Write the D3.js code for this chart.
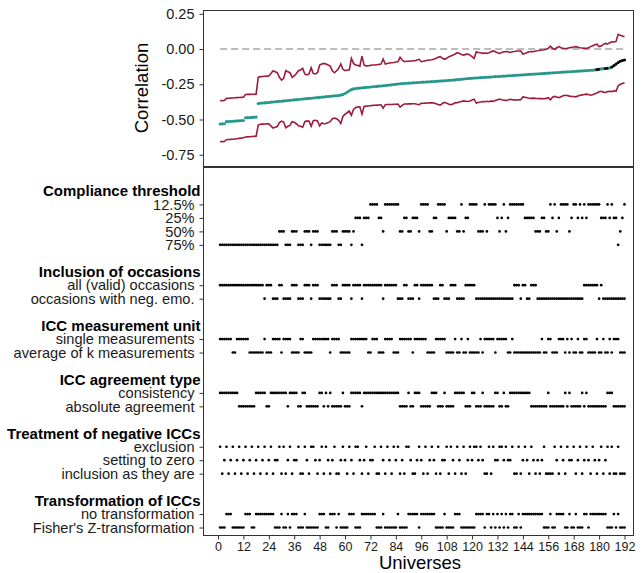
<!DOCTYPE html>
<html>
<head>
<meta charset="utf-8">
<script src="https://cdn.jsdelivr.net/npm/d3@7"></script>
<style>
  body { margin: 0; background: #fff; }
  svg { display: block; font-family: "Liberation Sans", Arial, sans-serif; }
</style>
</head>
<body>
<svg id="chart" width="643" height="573"></svg>
<script>
// ---- Specification curve: correlation per universe (sorted) ----
const estimate = [
  -0.532,-0.531,-0.530,
  -0.515,-0.514,-0.513,-0.512,-0.511,-0.510,-0.509,-0.508,-0.507,
  -0.488,-0.487,-0.486,-0.485,-0.484,-0.483,
  -0.386,-0.385,-0.383,-0.382,-0.380,-0.379,-0.377,-0.376,-0.374,-0.373,
  -0.371,-0.370,-0.368,-0.367,-0.365,-0.364,-0.362,-0.361,-0.359,-0.358,
  -0.356,-0.355,-0.353,-0.352,-0.350,-0.349,-0.347,-0.346,-0.344,-0.343,
  -0.341,-0.340,-0.338,-0.337,-0.335,-0.334,-0.332,-0.331,-0.329,-0.327,
  -0.322,-0.316,-0.306,-0.296,-0.288,-0.283,
  -0.280,-0.278,-0.277,-0.275,-0.274,-0.272,-0.271,-0.269,-0.268,-0.266,
  -0.265,-0.263,-0.262,-0.260,-0.259,-0.257,-0.256,-0.254,-0.252,-0.250,
  -0.248,-0.246,
  -0.245,-0.244,-0.243,-0.242,-0.241,-0.240,-0.239,-0.238,-0.237,-0.236,
  -0.235,-0.234,-0.233,-0.232,-0.231,-0.230,-0.229,-0.228,-0.227,-0.226,
  -0.225,-0.224,-0.222,-0.221,-0.220,-0.219,-0.217,-0.216,-0.214,-0.213,
  -0.211,-0.209,
  -0.208,-0.207,-0.206,-0.205,-0.204,-0.203,-0.202,-0.201,-0.200,-0.199,
  -0.198,-0.197,-0.196,-0.195,-0.194,-0.193,-0.192,-0.191,-0.190,-0.189,
  -0.188,-0.187,-0.186,-0.185,-0.184,-0.183,-0.182,-0.181,-0.180,-0.179,
  -0.178,
  -0.177,-0.176,-0.175,-0.174,-0.173,-0.172,-0.171,-0.170,-0.169,-0.168,
  -0.167,-0.166,-0.165,-0.164,-0.163,-0.162,-0.161,-0.160,-0.159,-0.158,
  -0.157,-0.156,-0.155,-0.154,-0.153,-0.152,-0.151,-0.150,-0.148,-0.146,
  -0.143,-0.141,-0.139,-0.138,-0.136,-0.134,-0.128,-0.118,-0.107,-0.096,
  -0.087,-0.081,-0.078
];

const ciUpper = [
  -0.366,-0.366,-0.365,
  -0.350,-0.349,-0.348,-0.347,-0.346,-0.345,-0.344,-0.343,-0.342,
  -0.323,-0.322,-0.322,-0.321,-0.321,-0.320,
  -0.201,-0.196,-0.195,-0.193,-0.192,-0.191,-0.173,-0.154,-0.161,-0.168,-0.201,-0.220,-0.208,-0.154,
  -0.161,-0.168,-0.201,-0.191,-0.173,-0.154,-0.149,-0.137,-0.177,-0.184,-0.177,-0.132,-0.173,-0.177,-0.168,-0.113,
  -0.106,-0.102,-0.106,-0.113,-0.121,-0.154,-0.168,-0.154,-0.137,-0.106,-0.144,-0.154,-0.149,-0.149,-0.066,-0.102,
  -0.113,-0.116,-0.121,-0.050,-0.113,-0.121,-0.118,-0.116,-0.113,-0.113,-0.111,-0.109,-0.106,-0.071,-0.106,-0.102,
  -0.099,-0.097,-0.095,-0.092,-0.090,-0.059,-0.078,-0.090,-0.087,-0.087,-0.085,-0.083,-0.083,-0.078,-0.073,-0.090,
  -0.087,-0.083,-0.080,-0.078,-0.076,-0.073,-0.066,-0.059,-0.054,-0.066,-0.073,-0.066,-0.054,-0.050,-0.043,-0.035,
  -0.026,-0.031,-0.038,-0.043,-0.038,-0.035,-0.043,-0.054,-0.066,-0.019,-0.024,-0.026,-0.031,-0.028,-0.031,-0.026,
  -0.019,-0.012,-0.019,-0.026,-0.031,-0.024,-0.019,-0.017,-0.019,-0.024,-0.019,-0.017,-0.014,-0.014,-0.014,-0.035,
  -0.031,-0.024,-0.019,-0.017,-0.019,-0.014,-0.012,-0.009,-0.007,-0.005,-0.002,0.005,0.021,0.005,-0.002,0.009,
  0.017,0.009,0.005,0.002,0.005,0.009,0.012,0.014,0.017,0.012,0.009,0.007,0.005,0.005,0.009,0.017,
  0.024,0.031,0.035,0.017,0.021,0.033,0.040,0.035,0.045,0.052,0.050,0.054,0.104,0.097,0.092,0.087
];

const ciLower = [
  -0.657,-0.657,-0.656,
  -0.643,-0.642,-0.641,-0.640,-0.638,-0.636,-0.634,-0.632,-0.630,
  -0.624,-0.623,-0.622,-0.621,-0.620,-0.619,
  -0.539,-0.534,-0.533,-0.532,-0.531,-0.530,-0.545,-0.560,-0.555,-0.550,-0.522,-0.512,-0.518,-0.558,
  -0.548,-0.542,-0.515,-0.520,-0.530,-0.545,-0.548,-0.555,-0.515,-0.510,-0.512,-0.548,-0.508,-0.505,-0.510,-0.545,
  -0.525,-0.530,-0.528,-0.522,-0.515,-0.495,-0.490,-0.495,-0.505,-0.528,-0.478,-0.462,-0.452,-0.440,-0.470,-0.428,
  -0.415,-0.412,-0.410,-0.462,-0.408,-0.405,-0.404,-0.402,-0.400,-0.399,-0.398,-0.397,-0.396,-0.420,-0.395,-0.394,
  -0.393,-0.393,-0.392,-0.392,-0.391,-0.412,-0.400,-0.390,-0.390,-0.389,-0.389,-0.388,-0.388,-0.392,-0.395,-0.385,
  -0.385,-0.384,-0.383,-0.382,-0.381,-0.383,-0.388,-0.394,-0.398,-0.386,-0.378,-0.384,-0.392,-0.394,-0.390,-0.382,
  -0.380,-0.376,-0.372,-0.368,-0.370,-0.372,-0.368,-0.362,-0.356,-0.385,-0.378,-0.376,-0.372,-0.374,-0.371,-0.374,
  -0.368,-0.372,-0.365,-0.360,-0.355,-0.360,-0.363,-0.364,-0.362,-0.357,-0.360,-0.361,-0.362,-0.361,-0.360,-0.340,
  -0.342,-0.346,-0.349,-0.350,-0.348,-0.350,-0.351,-0.352,-0.352,-0.353,-0.350,-0.345,-0.360,-0.342,-0.336,-0.340,
  -0.345,-0.338,-0.332,-0.328,-0.330,-0.334,-0.336,-0.337,-0.339,-0.333,-0.328,-0.325,-0.322,-0.320,-0.323,-0.328,
  -0.325,-0.318,-0.312,-0.303,-0.300,-0.306,-0.308,-0.302,-0.300,-0.302,-0.296,-0.300,-0.262,-0.250,-0.244,-0.240
];

// universes whose interval includes zero (drawn in black)
const nonSignificant = [179, 180, 183, 184, 186, 187, 188, 189, 190, 191, 192];

// ---- Analytic choices per universe (level index, 16 universes per chunk) ----
const compliance = [
  "3333333333333333","3333333333332223","3322233322232223","3333322233222232",
  "1113111000011200","0000022112211120","0002211000021111","2202110000222020",
  "0001210210000000","1111122211220102","1000021001010100","0000111010113210"
].join("").split("").map(Number);

const occasions = [
  "0000000000000000","0000010001110011","1100011100010001","1111100011000010",
  "0001000000000100","0000111001110010","0000011100111000","1111000001111111",
  "1111111111100010","0110001111111111","1111111111110000","0001011111111111"
].join("").split("").map(Number);

const measurementUnit = [
  "0000001100000011","1111101110000100","0011110011110000","0000100001111100",
  "0000001100011100","0011100000010000","0011110000011110","1101101111101000",
  "0010000011011111","1111111101100111","0001010110110011","1101101101000111"
].join("").split("").map(Number);

const agreementType = [
  "0000000001111111","1000001100000000","1000011001111110","0101011111011100",
  "0001000000000000","0000011110110001","1111000111011110","0000111001110111",
  "1100110110000000","0001111111101111","1110101111101011","1111111000111111"
].join("").split("").map(Number);

const negativeIcc = [
  "0210210210210210","2102102102110202","1021102201200121","0201210221012012",
  "0012102110220120","1201021200122101","2021012021102012","0120210100101220",
  "2011001011022021","0120121210222201","2012011021021012","0121021020220222"
].join("").split("").map(Number);

const transformation = [
  "1110001111110001","1000000000111011","0100011101111110","0011000101111000",
  "1110000000111011","1111011110000010","0000001111011110","0011111110000100",
  "1010101010011010","0000000001110110","0001101101110010","0000000111010111"
].join("").split("").map(Number);

const factorNames = [
  "Compliance threshold", "Inclusion of occasions", "ICC measurement unit",
  "ICC agreement type", "Treatment of negative ICCs", "Transformation of ICCs"
];
const complianceLabels = ["12.5%", "25%", "50%", "75%"];
const occasionLabels = ["all (valid) occasions", "occasions with neg. emo."];
const unitLabels = ["single measurements", "average of k measurements"];
const agreementLabels = ["consistency", "absolute agreement"];
const negativeLabels = ["exclusion", "setting to zero", "inclusion as they are"];
const transformLabels = ["no transformation", "Fisher's Z-transformation"];

const yTicks = [-0.75, -0.5, -0.25, 0, 0.25];
const xTicks = [0, 12, 24, 36, 48, 60, 72, 84, 96, 108, 120, 132, 144, 156, 168, 180, 192];

// ---- Layout ----
const panelLeft = 203.5, panelRight = 633.5;
const curvePanel = { y0: 10.5, y1: 166.5 };
const choicePanel = { y0: 167.5, y1: 535.5 };
const teal = "#26968a", crimson = "#9e1b3b";
const fontFamily = '"Liberation Sans", Arial, sans-serif';

const svg = d3.select("#chart");
svg.append("rect").attr("width", 643).attr("height", 573).attr("fill", "#fff");

const x = d3.scaleLinear().domain([0, 192]).range([218, 624.5]);
const y = d3.scaleLinear().domain([-0.837, 0.277]).range([167, 10]);

const universes = estimate.map((e, i) => ({
  u: i + 1, est: e, lo: ciLower[i], hi: ciUpper[i],
  ns: nonSignificant.includes(i + 1)
}));

// ---- Upper panel: estimates with interval bounds ----
const curveG = svg.append("g");
curveG.append("rect")
  .attr("x", panelLeft).attr("y", curvePanel.y0)
  .attr("width", panelRight - panelLeft).attr("height", curvePanel.y1 - curvePanel.y0)
  .attr("fill", "none").attr("stroke", "#333").attr("stroke-width", 1);

curveG.append("line")
  .attr("x1", x(1)).attr("x2", x(192))
  .attr("y1", y(0)).attr("y2", y(0))
  .attr("stroke", "#a6a6a6").attr("stroke-width", 1.4)
  .attr("stroke-dasharray", "7,4");

const boundLine = key => d3.line().x(d => x(d.u)).y(d => y(d[key]));
curveG.append("path").datum(universes).attr("d", boundLine("hi"))
  .attr("fill", "none").attr("stroke", crimson).attr("stroke-width", 1.6);
curveG.append("path").datum(universes).attr("d", boundLine("lo"))
  .attr("fill", "none").attr("stroke", crimson).attr("stroke-width", 1.6);

curveG.selectAll("circle.est").data(universes).join("circle")
  .attr("class", "est")
  .attr("cx", d => x(d.u)).attr("cy", d => y(d.est)).attr("r", 1.55)
  .attr("fill", d => d.ns ? "#000" : teal);

const yAxis = d3.axisLeft(y).tickValues(yTicks)
  .tickFormat(d => d.toFixed(2)).tickSize(4).tickPadding(5);
const yg = curveG.append("g").attr("transform", `translate(${panelLeft},0)`).call(yAxis);
yg.select(".domain").remove();
yg.selectAll("line").attr("stroke", "#333");
yg.selectAll("text").attr("font-size", 14.5).attr("fill", "#1a1a1a")
  .attr("font-family", fontFamily);

svg.append("text")
  .attr("transform", "translate(141,88) rotate(-90)")
  .attr("text-anchor", "middle").attr("dy", "0.36em")
  .attr("font-size", 18.5).attr("fill", "#000")
  .attr("font-family", fontFamily)
  .text("Correlation");

// ---- Lower panel: choices per universe ----
const factors = [
  { name: factorNames[0], labels: complianceLabels, codes: compliance },
  { name: factorNames[1], labels: occasionLabels, codes: occasions },
  { name: factorNames[2], labels: unitLabels, codes: measurementUnit },
  { name: factorNames[3], labels: agreementLabels, codes: agreementType },
  { name: factorNames[4], labels: negativeLabels, codes: negativeIcc },
  { name: factorNames[5], labels: transformLabels, codes: transformation }
];

const rowKeys = [], levelKeys = [], labelOf = {};
factors.forEach((f, fi) => {
  rowKeys.push(`h${fi}`);
  f.labels.forEach((lab, li) => {
    const k = `l${fi}_${li}`;
    rowKeys.push(k); levelKeys.push(k); labelOf[k] = lab;
  });
  if (fi < factors.length - 1) rowKeys.push(`b${fi}`);
});

const row = d3.scalePoint().domain(rowKeys).range([191, 527.5]);

const choiceG = svg.append("g");
choiceG.append("rect")
  .attr("x", panelLeft).attr("y", choicePanel.y0)
  .attr("width", panelRight - panelLeft).attr("height", choicePanel.y1 - choicePanel.y0)
  .attr("fill", "none").attr("stroke", "#333").attr("stroke-width", 1);

const dots = [];
factors.forEach((f, fi) => {
  f.codes.forEach((lv, i) => dots.push({ u: i + 1, key: `l${fi}_${lv}` }));
});
choiceG.selectAll("circle.choice").data(dots).join("circle")
  .attr("class", "choice")
  .attr("cx", d => x(d.u)).attr("cy", d => row(d.key)).attr("r", 1.35)
  .attr("fill", "#000");

const rowAxis = d3.axisLeft(row).tickValues(levelKeys)
  .tickFormat(k => labelOf[k]).tickSize(4).tickPadding(5);
const rg = choiceG.append("g").attr("transform", `translate(${panelLeft},0)`).call(rowAxis);
rg.select(".domain").remove();
rg.selectAll("line").attr("stroke", "#333");
rg.selectAll("text").attr("font-size", 14.6).attr("fill", "#1a1a1a")
  .attr("font-family", fontFamily);

choiceG.selectAll("text.heading").data(factors).join("text")
  .attr("class", "heading")
  .attr("x", 200.5).attr("y", (d, fi) => row(`h${fi}`))
  .attr("dy", "0.36em").attr("text-anchor", "end")
  .attr("font-size", 15).attr("font-weight", "bold").attr("fill", "#000")
  .attr("font-family", fontFamily)
  .text(d => d.name);

// ---- x axis ----
const xAxis = d3.axisBottom(x).tickValues(xTicks).tickSize(4).tickPadding(3);
const xg = svg.append("g").attr("transform", `translate(0,${choicePanel.y1})`).call(xAxis);
xg.select(".domain").remove();
xg.selectAll("line").attr("stroke", "#333");
xg.selectAll("text").attr("font-size", 12.5).attr("fill", "#1a1a1a")
  .attr("font-family", fontFamily);

svg.append("text")
  .attr("x", 420).attr("y", 569)
  .attr("text-anchor", "middle")
  .attr("font-size", 18.5).attr("fill", "#000")
  .attr("font-family", fontFamily)
  .text("Universes");
</script>
</body>
</html>
